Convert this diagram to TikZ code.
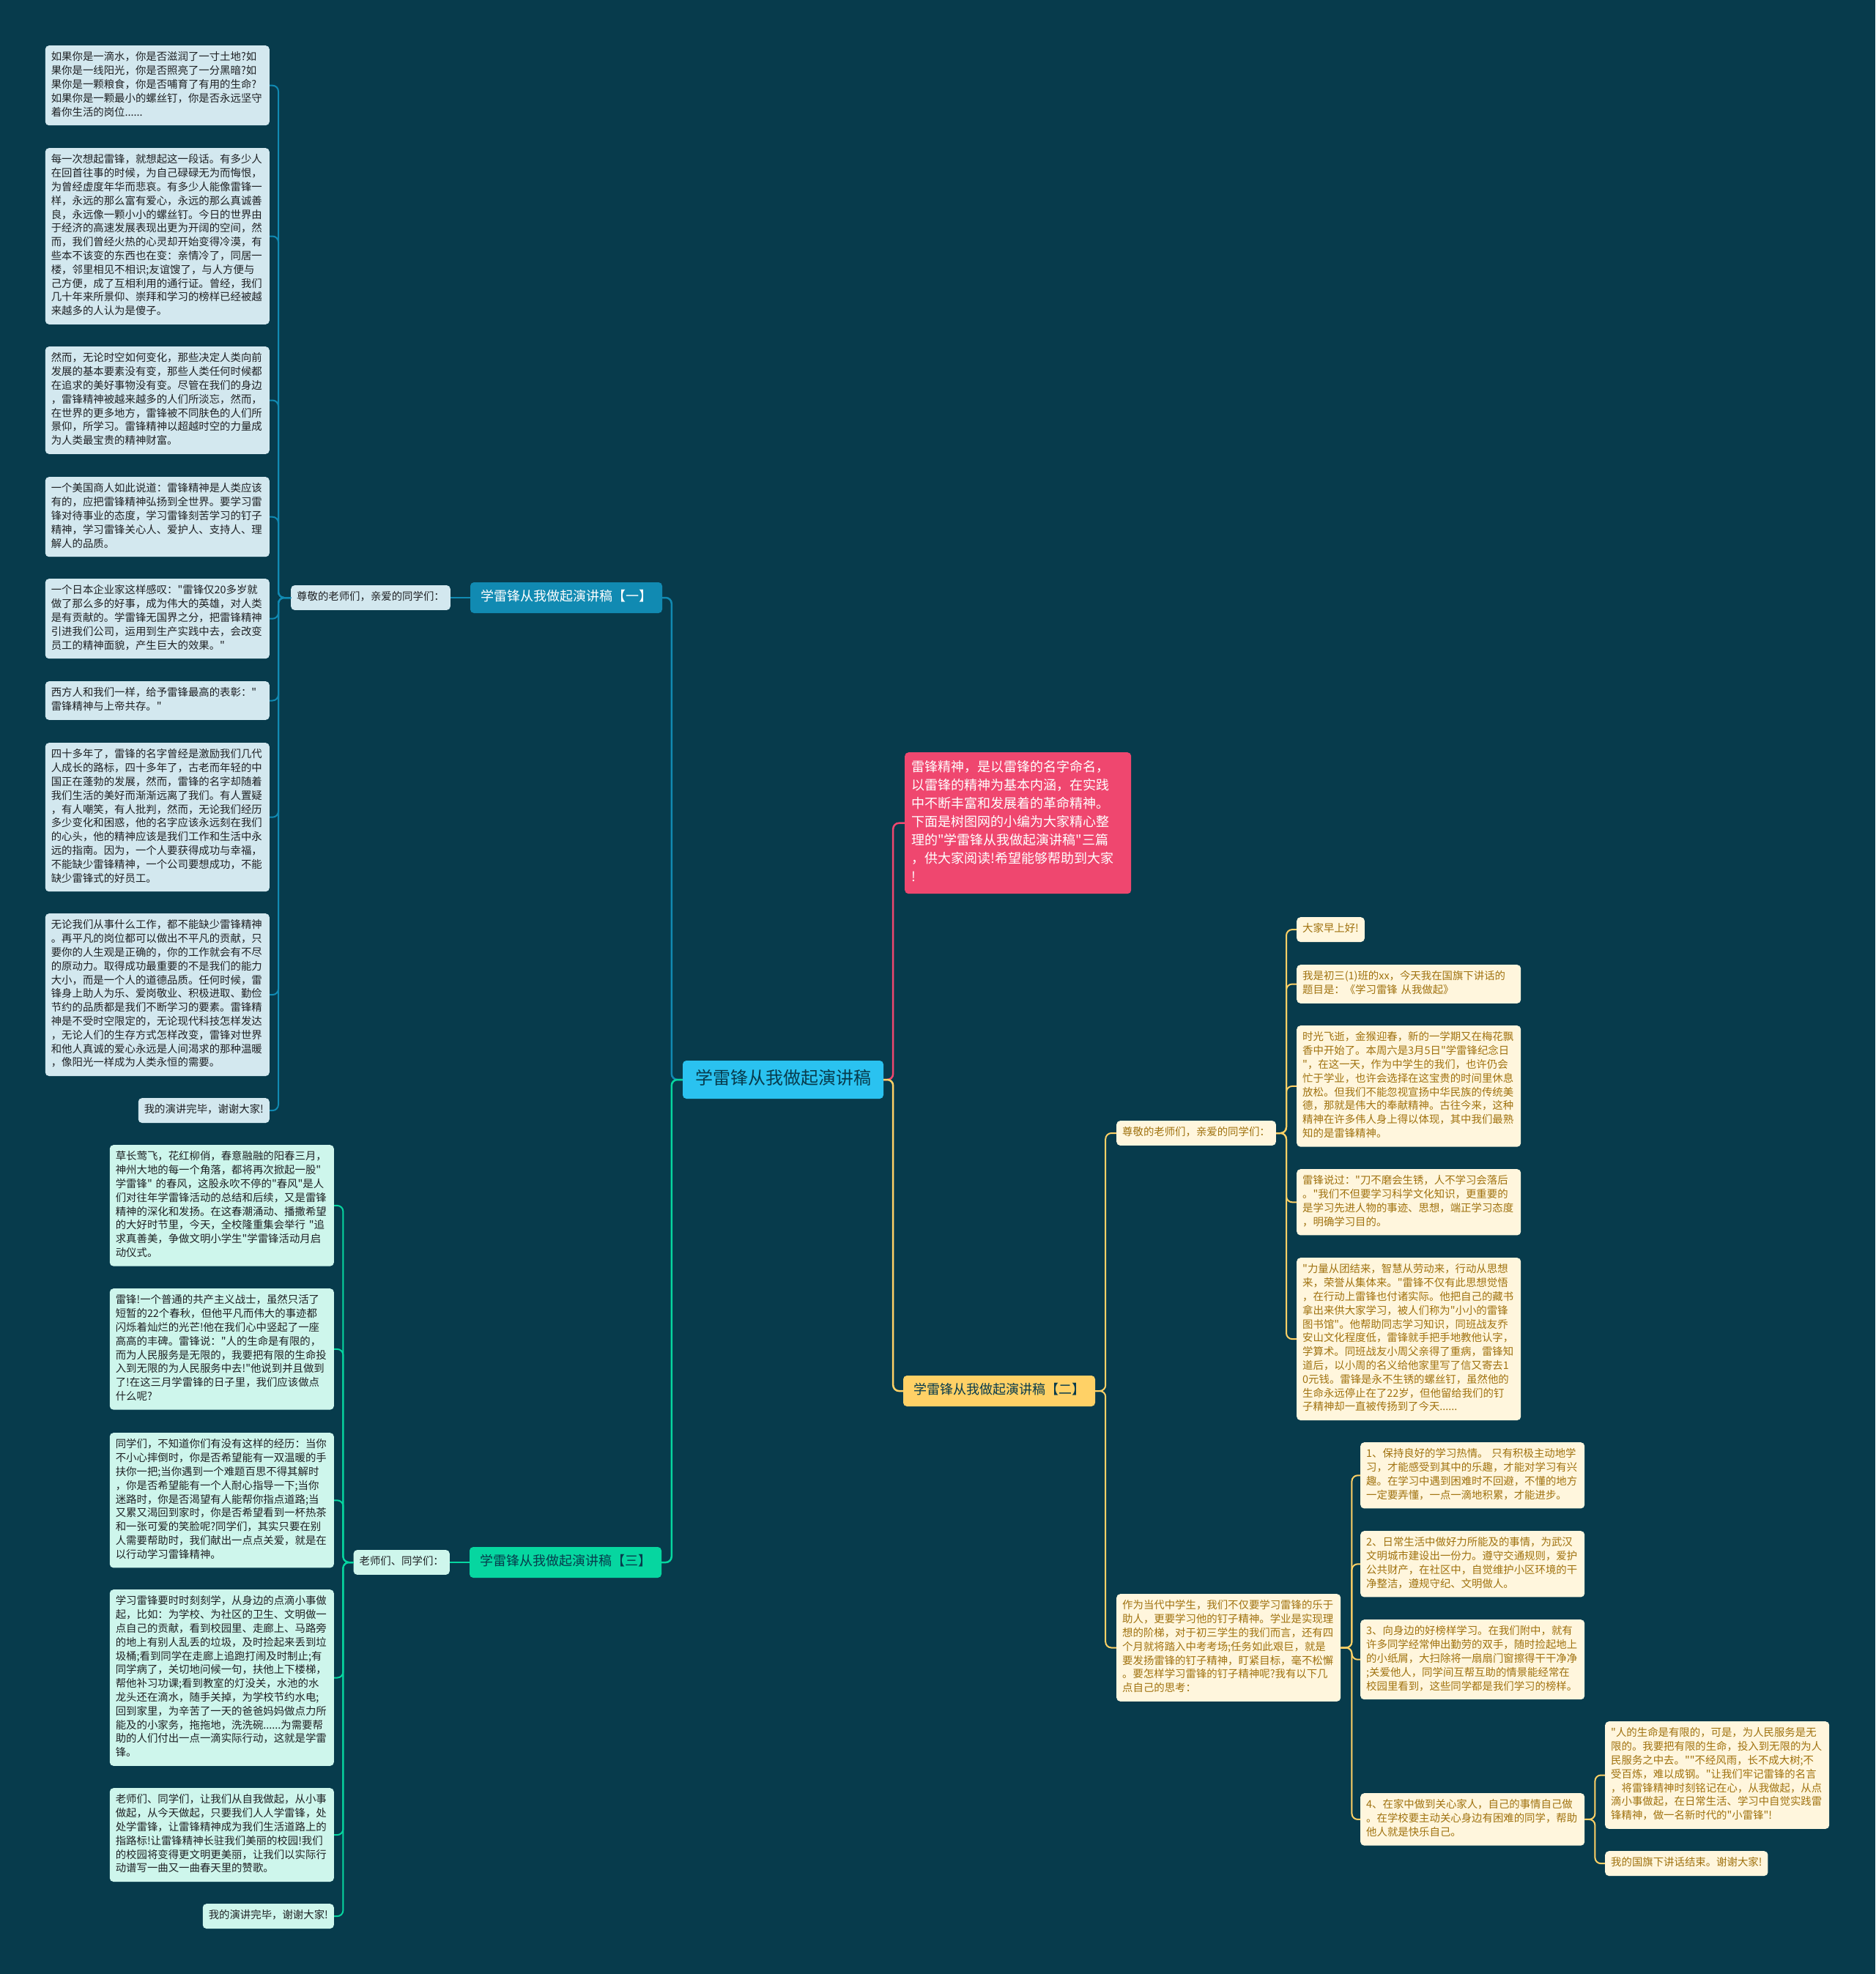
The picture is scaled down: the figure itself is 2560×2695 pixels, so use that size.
\documentclass[tikz,border=0pt]{standalone}
\usepackage{fontspec}
\setmainfont{Noto Sans CJK SC}[Ligatures=TeXOff]
\definecolor{cBg}{HTML}{073B4C}
\definecolor{cBlue}{HTML}{118AB2}
\definecolor{cYellow}{HTML}{FFD166}
\definecolor{cGreen}{HTML}{06D6A0}
\definecolor{cRed}{HTML}{EF476F}
\definecolor{cRoot}{HTML}{2AC2F0}
\definecolor{cBlueLeaf}{HTML}{D3E8EF}
\definecolor{cGreenLeaf}{HTML}{CEF6EC}
\definecolor{cCream}{HTML}{FFF6DD}
\definecolor{cGold}{HTML}{A0720F}
\definecolor{cDark}{HTML}{1E2124}
\tikzset{
  lf/.style={rounded corners=5pt, inner xsep=8pt, inner ysep=7.5pt, font=\fontsize{14.4}{18.8}\selectfont, align=left},
  wide/.style={text width=290pt},
  blf/.style={lf, fill=cBlueLeaf, text=cDark},
  glf/.style={lf, fill=cGreenLeaf, text=cDark},
  ylf/.style={lf, fill=cCream, text=cGold},
  head/.style={rounded corners=5pt, inner xsep=14pt, inner ysep=9pt, font=\fontsize{18}{24}\selectfont},
  con/.style={line width=2pt, rounded corners=8pt},
  bcon/.style={con, draw=cBlue},
  gcon/.style={con, draw=cGreen},
  ycon/.style={con, draw=cYellow},
  rcon/.style={con, draw=cRed},
}
\begin{document}
\begin{tikzpicture}[x=1pt,y=-1pt]
\fill[cBg] (0,0) rectangle (2560,2695);
\useasboundingbox (0,0) rectangle (2560,2695);

% root
\node[rounded corners=5pt, fill=cRoot, text=cBg, inner xsep=17pt, inner ysep=10pt, font=\fontsize{24}{32}\selectfont] (root) at (1069,1474) {\strut 学雷锋从我做起演讲稿\strut};

% intro
\node[rounded corners=5pt, fill=cRed, text=white, inner xsep=9pt, inner ysep=9pt, font=\fontsize{18}{25}\selectfont, align=left, text width=291pt, anchor=north west] (intro) at (1235,1027) {\strut 雷锋精神，是以雷锋的名字命名，\\以雷锋的精神为基本内涵，在实践\\中不断丰富和发展着的革命精神。\\下面是树图网的小编为大家精心整\\理的"学雷锋从我做起演讲稿"三篇\\，供大家阅读!希望能够帮助到大家\\!\strut};

% headers
\node[head, fill=cBlue, text=white] (b1) at (773,816) {\strut 学雷锋从我做起演讲稿【一】\strut};
\node[head, fill=cYellow, text=cBg] (b2) at (1364,1899) {\strut 学雷锋从我做起演讲稿【二】\strut};
\node[head, fill=cGreen, text=cBg] (b3) at (772,2133) {\strut 学雷锋从我做起演讲稿【三】\strut};

% ===== branch 1 =====
\node[blf, anchor=east] (l1) at (615,816) {\strut 尊敬的老师们，亲爱的同学们：\strut};
\node[blf, wide, anchor=north east] (a1) at (368,62) {\strut 如果你是一滴水，你是否滋润了一寸土地?如\\果你是一线阳光，你是否照亮了一分黑暗?如\\果你是一颗粮食，你是否哺育了有用的生命?\\如果你是一颗最小的螺丝钉，你是否永远坚守\\着你生活的岗位......\strut};
\node[blf, wide, anchor=north east] (a2) at (368,202) {\strut 每一次想起雷锋，就想起这一段话。有多少人\\在回首往事的时候，为自己碌碌无为而悔恨，\\为曾经虚度年华而悲哀。有多少人能像雷锋一\\样，永远的那么富有爱心，永远的那么真诚善\\良，永远像一颗小小的螺丝钉。今日的世界由\\于经济的高速发展表现出更为开阔的空间，然\\而，我们曾经火热的心灵却开始变得冷漠，有\\些本不该变的东西也在变：亲情冷了，同居一\\楼，邻里相见不相识;友谊馊了，与人方便与\\己方便，成了互相利用的通行证。曾经，我们\\几十年来所景仰、崇拜和学习的榜样已经被越\\来越多的人认为是傻子。\strut};
\node[blf, wide, anchor=north east] (a3) at (368,473) {\strut 然而，无论时空如何变化，那些决定人类向前\\发展的基本要素没有变，那些人类任何时候都\\在追求的美好事物没有变。尽管在我们的身边\\，雷锋精神被越来越多的人们所淡忘，然而，\\在世界的更多地方，雷锋被不同肤色的人们所\\景仰，所学习。雷锋精神以超越时空的力量成\\为人类最宝贵的精神财富。\strut};
\node[blf, wide, anchor=north east] (a4) at (368,651) {\strut 一个美国商人如此说道：雷锋精神是人类应该\\有的，应把雷锋精神弘扬到全世界。要学习雷\\锋对待事业的态度，学习雷锋刻苦学习的钉子\\精神，学习雷锋关心人、爱护人、支持人、理\\解人的品质。\strut};
\node[blf, wide, anchor=north east] (a5) at (368,790) {\strut 一个日本企业家这样感叹："雷锋仅20多岁就\\做了那么多的好事，成为伟大的英雄，对人类\\是有贡献的。学雷锋无国界之分，把雷锋精神\\引进我们公司，运用到生产实践中去，会改变\\员工的精神面貌，产生巨大的效果。"\strut};
\node[blf, wide, anchor=north east] (a6) at (368,930) {\strut 西方人和我们一样，给予雷锋最高的表彰："\\雷锋精神与上帝共存。"\strut};
\node[blf, wide, anchor=north east] (a7) at (368,1014) {\strut 四十多年了，雷锋的名字曾经是激励我们几代\\人成长的路标，四十多年了，古老而年轻的中\\国正在蓬勃的发展，然而，雷锋的名字却随着\\我们生活的美好而渐渐远离了我们。有人置疑\\，有人嘲笑，有人批判，然而，无论我们经历\\多少变化和困惑，他的名字应该永远刻在我们\\的心头，他的精神应该是我们工作和生活中永\\远的指南。因为，一个人要获得成功与幸福，\\不能缺少雷锋精神，一个公司要想成功，不能\\缺少雷锋式的好员工。\strut};
\node[blf, wide, anchor=north east] (a8) at (368,1247) {\strut 无论我们从事什么工作，都不能缺少雷锋精神\\。再平凡的岗位都可以做出不平凡的贡献，只\\要你的人生观是正确的，你的工作就会有不尽\\的原动力。取得成功最重要的不是我们的能力\\大小，而是一个人的道德品质。任何时候，雷\\锋身上助人为乐、爱岗敬业、积极进取、勤俭\\节约的品质都是我们不断学习的要素。雷锋精\\神是不受时空限定的，无论现代科技怎样发达\\，无论人们的生存方式怎样改变，雷锋对世界\\和他人真诚的爱心永远是人间渴求的那种温暖\\，像阳光一样成为人类永恒的需要。\strut};
\node[blf, anchor=north east] (a9) at (368,1499) {\strut 我的演讲完毕，谢谢大家!\strut};

% ===== branch 3 =====
\node[glf, anchor=east] (l3) at (614,2133) {\strut 老师们、同学们：\strut};
\node[glf, wide, anchor=north east] (c1) at (456,1563) {\strut 草长莺飞，花红柳俏，春意融融的阳春三月，\\神州大地的每一个角落，都将再次掀起一股"\\学雷锋"~的春风，这股永吹不停的"春风"是人\\们对往年学雷锋活动的总结和后续，又是雷锋\\精神的深化和发扬。在这春潮涌动、播撒希望\\的大好时节里，今天，全校隆重集会举行~"追\\求真善美，争做文明小学生"学雷锋活动月启\\动仪式。\strut};
\node[glf, wide, anchor=north east] (c2) at (456,1759) {\strut 雷锋!一个普通的共产主义战士，虽然只活了\\短暂的22个春秋，但他平凡而伟大的事迹都\\闪烁着灿烂的光芒!他在我们心中竖起了一座\\高高的丰碑。雷锋说："人的生命是有限的，\\而为人民服务是无限的，我要把有限的生命投\\入到无限的为人民服务中去!"他说到并且做到\\了!在这三月学雷锋的日子里，我们应该做点\\什么呢?\strut};
\node[glf, wide, anchor=north east] (c3) at (456,1956) {\strut 同学们，不知道你们有没有这样的经历：当你\\不小心摔倒时，你是否希望能有一双温暖的手\\扶你一把;当你遇到一个难题百思不得其解时\\，你是否希望能有一个人耐心指导一下;当你\\迷路时，你是否渴望有人能帮你指点道路;当\\又累又渴回到家时，你是否希望看到一杯热茶\\和一张可爱的笑脸呢?同学们，其实只要在别\\人需要帮助时，我们献出一点点关爱，就是在\\以行动学习雷锋精神。\strut};
\node[glf, wide, anchor=north east] (c4) at (456,2170) {\strut 学习雷锋要时时刻刻学，从身边的点滴小事做\\起，比如：为学校、为社区的卫生、文明做一\\点自己的贡献，看到校园里、走廊上、马路旁\\的地上有别人乱丢的垃圾，及时捡起来丢到垃\\圾桶;看到同学在走廊上追跑打闹及时制止;有\\同学病了，关切地问候一句，扶他上下楼梯，\\帮他补习功课;看到教室的灯没关，水池的水\\龙头还在滴水，随手关掉，为学校节约水电;\\回到家里，为辛苦了一天的爸爸妈妈做点力所\\能及的小家务，拖拖地，洗洗碗......为需要帮\\助的人们付出一点一滴实际行动，这就是学雷\\锋。\strut};
\node[glf, wide, anchor=north east] (c5) at (456,2441) {\strut 老师们、同学们，让我们从自我做起，从小事\\做起，从今天做起，只要我们人人学雷锋，处\\处学雷锋，让雷锋精神成为我们生活道路上的\\指路标!让雷锋精神长驻我们美丽的校园!我们\\的校园将变得更文明更美丽，让我们以实际行\\动谱写一曲又一曲春天里的赞歌。\strut};
\node[glf, anchor=north east] (c6) at (456,2599) {\strut 我的演讲完毕，谢谢大家!\strut};

% ===== branch 2 =====
\node[ylf, anchor=west] (l2) at (1524,1547) {\strut 尊敬的老师们，亲爱的同学们：\strut};
\node[ylf, anchor=north west] (d1) at (1770,1252) {\strut 大家早上好!\strut};
\node[ylf, wide, anchor=north west] (d2) at (1770,1317) {\strut 我是初三(1)班的xx，今天我在国旗下讲话的\\题目是：《学习雷锋~从我做起》\strut};
\node[ylf, wide, anchor=north west] (d3) at (1770,1400) {\strut 时光飞逝，金猴迎春，新的一学期又在梅花飘\\香中开始了。本周六是3月5日"学雷锋纪念日\\"，在这一天，作为中学生的我们，也许仍会\\忙于学业，也许会选择在这宝贵的时间里休息\\放松。但我们不能忽视宣扬中华民族的传统美\\德，那就是伟大的奉献精神。古往今来，这种\\精神在许多伟人身上得以体现，其中我们最熟\\知的是雷锋精神。\strut};
\node[ylf, wide, anchor=north west] (d4) at (1770,1596) {\strut 雷锋说过："刀不磨会生锈，人不学习会落后\\。"我们不但要学习科学文化知识，更重要的\\是学习先进人物的事迹、思想，端正学习态度\\，明确学习目的。\strut};
\node[ylf, wide, anchor=north west] (d5) at (1770,1717) {\strut "力量从团结来，智慧从劳动来，行动从思想\\来，荣誉从集体来。"雷锋不仅有此思想觉悟\\，在行动上雷锋也付诸实际。他把自己的藏书\\拿出来供大家学习，被人们称为"小小的雷锋\\图书馆"。他帮助同志学习知识，同班战友乔\\安山文化程度低，雷锋就手把手地教他认字，\\学算术。同班战友小周父亲得了重病，雷锋知\\道后，以小周的名义给他家里写了信又寄去1\\0元钱。雷锋是永不生锈的螺丝钉，虽然他的\\生命永远停止在了22岁，但他留给我们的钉\\子精神却一直被传扬到了今天......\strut};

\node[ylf, wide, anchor=north west] (zw) at (1524,2176) {\strut 作为当代中学生，我们不仅要学习雷锋的乐于\\助人，更要学习他的钉子精神。学业是实现理\\想的阶梯，对于初三学生的我们而言，还有四\\个月就将踏入中考考场;任务如此艰巨，就是\\要发扬雷锋的钉子精神，盯紧目标，毫不松懈\\。要怎样学习雷锋的钉子精神呢?我有以下几\\点自己的思考：\strut};
\node[ylf, wide, anchor=north west] (e1) at (1857,1969) {\strut 1、保持良好的学习热情。~只有积极主动地学\\习，才能感受到其中的乐趣，才能对学习有兴\\趣。在学习中遇到困难时不回避，不懂的地方\\一定要弄懂，一点一滴地积累，才能进步。\strut};
\node[ylf, wide, anchor=north west] (e2) at (1857,2090) {\strut 2、日常生活中做好力所能及的事情，为武汉\\文明城市建设出一份力。遵守交通规则，爱护\\公共财产，在社区中，自觉维护小区环境的干\\净整洁，遵规守纪、文明做人。\strut};
\node[ylf, wide, anchor=north west] (e3) at (1857,2211) {\strut 3、向身边的好榜样学习。在我们附中，就有\\许多同学经常伸出勤劳的双手，随时捡起地上\\的小纸屑，大扫除将一扇扇门窗擦得干干净净\\;关爱他人，同学间互帮互助的情景能经常在\\校园里看到，这些同学都是我们学习的榜样。\strut};
\node[ylf, wide, anchor=north west] (e4) at (1857,2448) {\strut 4、在家中做到关心家人，自己的事情自己做\\。在学校要主动关心身边有困难的同学，帮助\\他人就是快乐自己。\strut};
\node[ylf, wide, anchor=north west] (f1) at (2191,2350) {\strut "人的生命是有限的，可是，为人民服务是无\\限的。我要把有限的生命，投入到无限的为人\\民服务之中去。""不经风雨，长不成大树;不\\受百炼，难以成钢。"让我们牢记雷锋的名言\\，将雷锋精神时刻铭记在心，从我做起，从点\\滴小事做起，在日常生活、学习中自觉实践雷\\锋精神，做一名新时代的"小雷锋"!\strut};
\node[ylf, anchor=north west] (f2) at (2191,2527) {\strut 我的国旗下讲话结束。谢谢大家!\strut};

% ===== connectors =====
\draw[bcon, line width=2.5pt] (root.west) -- ++(-15,0) |- (b1.east);
\draw[gcon, line width=2.5pt] (root.west) -- ++(-15,0) |- (b3.east);
\draw[rcon, line width=2.5pt] (root.east) -- ++(13,0) |- (intro.west);
\draw[ycon, line width=2.5pt] (root.east) -- ++(13,0) |- (b2.west);

\draw[bcon] (b1.west) -- (l1.east);
\foreach \n in {a1,a2,a3,a4,a5,a6,a7,a8,a9}
  \draw[bcon] (l1.west) -- ++(-17,0) |- (\n.east);

\draw[gcon] (b3.west) -- (l3.east);
\foreach \n in {c1,c2,c3,c4,c5,c6}
  \draw[gcon] (l3.west) -- ++(-14,0) |- (\n.east);

\draw[ycon] (b2.east) -- ++(14,0) |- (l2.west);
\draw[ycon] (b2.east) -- ++(14,0) |- (zw.west);
\foreach \n in {d1,d2,d3,d4,d5}
  \draw[ycon] (l2.east) -- ++(14,0) |- (\n.west);
\foreach \n in {e1,e2,e3,e4}
  \draw[ycon] (zw.east) -- ++(15,0) |- (\n.west);
\foreach \n in {f1,f2}
  \draw[ycon] (e4.east) -- ++(14,0) |- (\n.west);
\end{tikzpicture}
\end{document}
